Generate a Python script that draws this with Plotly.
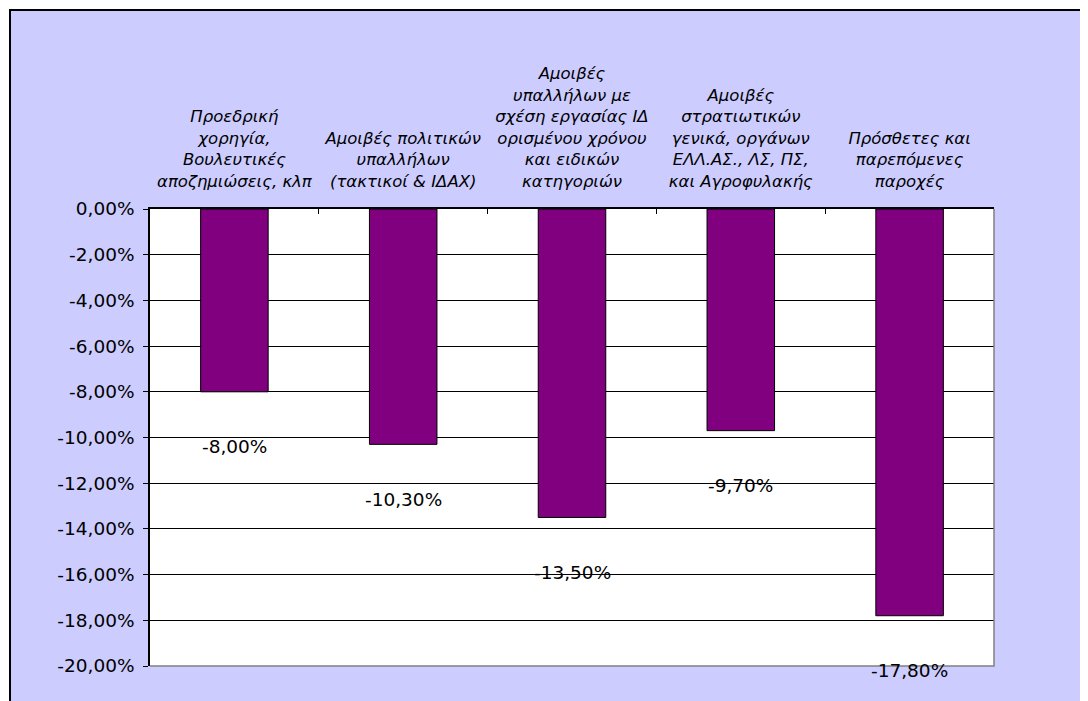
import plotly.graph_objects as go

# Categories (line breaks as in the original chart)
categories = [
    "Προεδρική<br>χορηγία,<br>Βουλευτικές<br>αποζημιώσεις, κλπ",
    "Αμοιβές πολιτικών<br>υπαλλήλων<br>(τακτικοί & ΙΔΑΧ)",
    "Αμοιβές<br>υπαλλήλων με<br>σχέση εργασίας ΙΔ<br>ορισμένου χρόνου<br>και ειδικών<br>κατηγοριών",
    "Αμοιβές<br>στρατιωτικών<br>γενικά, οργάνων<br>ΕΛΛ.ΑΣ., ΛΣ, ΠΣ,<br>και Αγροφυλακής",
    "Πρόσθετες και<br>παρεπόμενες<br>παροχές",
]
changes = [-8.0, -10.3, -13.5, -9.7, -17.8]
y_ticks = [0, -2, -4, -6, -8, -10, -12, -14, -16, -18, -20]


def pct(v):
    return f"{v:.2f}%".replace(".", ",")


FONT = "DejaVu Sans"
BG = "#CCCCFF"
NUM_SIZE = 18.5

fig = go.Figure()

fig.add_trace(
    go.Bar(
        x=categories,
        y=changes,
        marker=dict(color="#800080", line=dict(color="black", width=1)),
        hoverinfo="skip",
    )
)

# value labels below each bar end
for cat, val in zip(categories, changes):
    fig.add_annotation(
        x=cat, y=val, text=pct(val), showarrow=False,
        yshift=-55, yanchor="middle",
        font=dict(family=FONT, size=NUM_SIZE, color="black"),
    )

# lavender panel with black frame, white plot area on top of it
fig.add_shape(
    type="rect", layer="below",
    xref="paper", yref="paper", xsizemode="pixel", ysizemode="pixel",
    xanchor=0, yanchor=1, x0=-140, x1=1100, y0=199, y1=-800,
    fillcolor=BG, line=dict(color="black", width=2),
)
fig.add_shape(
    type="rect", layer="below", xref="paper", yref="paper",
    x0=0, x1=1, y0=0, y1=1, fillcolor="white", line=dict(width=0),
)
fig.add_shape(
    type="path", layer="above", xref="paper", yref="paper",
    path="M 0,0 L 1,0 L 1,1", line=dict(color="#808080", width=1.5),
)

fig.update_layout(
    width=1088,
    height=701,
    margin=dict(l=142, r=102, t=201, b=43),
    paper_bgcolor="white",
    plot_bgcolor="white",
    showlegend=False,
    bargap=0.6,
    font=dict(family=FONT, size=16, color="black"),
    xaxis=dict(
        side="top",
        showline=True,
        linecolor="black",
        linewidth=1.5,
        ticks="inside",
        tickson="boundaries",
        ticklen=5,
        tickcolor="black",
        ticklabelstandoff=14,
        tickfont=dict(family=FONT, size=16.5, color="black", style="italic"),
        showgrid=False,
        zeroline=False,
    ),
    yaxis=dict(
        range=[-20, 0],
        tickvals=y_ticks,
        ticktext=[pct(v) for v in y_ticks],
        showline=True,
        linecolor="black",
        linewidth=1.5,
        ticks="outside",
        ticklen=5,
        tickcolor="black",
        ticklabelstandoff=5,
        showgrid=True,
        gridcolor="black",
        gridwidth=1,
        zeroline=False,
        tickfont=dict(family=FONT, size=NUM_SIZE, color="black"),
    ),
)

fig.write_html("out.html")
